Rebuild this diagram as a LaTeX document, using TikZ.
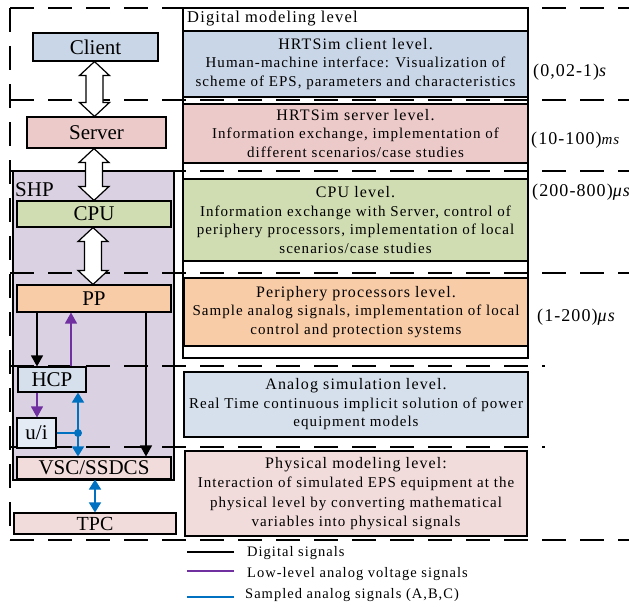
\documentclass[tikz,border=0pt]{standalone}
\usepackage{fontspec}
\setmainfont{Liberation Serif}
\newfontfamily\rfont[LetterSpace=7]{Liberation Serif}
\newfontfamily\tfont[LetterSpace=7]{Liberation Serif}
\newfontfamily\qfont[LetterSpace=6]{Liberation Serif}
\usetikzlibrary{arrows.meta,calc,fit}
\definecolor{cblue}{RGB}{201,214,231}
\definecolor{ablue}{RGB}{214,224,236}
\definecolor{uiblue}{RGB}{228,235,245}
\definecolor{spink}{RGB}{237,202,202}
\definecolor{ppink}{RGB}{242,220,219}
\definecolor{cgreen}{RGB}{208,221,178}
\definecolor{corange}{RGB}{249,204,168}
\definecolor{lav}{RGB}{218,210,226}
\definecolor{sigpurple}{RGB}{112,48,160}
\definecolor{sigblue}{RGB}{0,112,192}
\newcommand\hollowarr[3]{%
  \draw[hollow] let \p1=(#1 -| #3,0), \p2=(#2 -| #3,0) in
    (\x1,\y1) -- (\x1+15pt,\y1-14pt) -- (\x1+8.5pt,\y1-14pt) -- (\x1+8.5pt,\y2+14pt)
    -- (\x1+15pt,\y2+14pt) -- (\x1,\y2) -- (\x1-15pt,\y2+14pt) -- (\x1-8.5pt,\y2+14pt)
    -- (\x1-8.5pt,\y1-14pt) -- (\x1-15pt,\y1-14pt) -- cycle;}
\begin{document}
\begin{tikzpicture}[x=1pt,y=-1pt,
  box/.style={draw=black, line width=1.1pt, inner sep=0pt},
  lbox/.style={box, font=\fontsize{21}{24}\selectfont},
  rbody/.style={align=center, inner sep=0pt, font=\rfont\fontsize{15}{18.5}\selectfont},
  dline/.style={line width=1.2pt, dash pattern=on 24pt off 14pt},
  hollow/.style={draw=black, fill=white, line width=1.2pt, line join=miter},
  sigk/.style={draw=black, line width=1.2pt},
  sigp/.style={draw=sigpurple, line width=1.2pt},
  sigb/.style={draw=sigblue, line width=1.8pt},
  tip/.style={-{Triangle[width=12pt,length=11pt]}},
  dtip/.style={{Triangle[width=12pt,length=10pt]}-{Triangle[width=12pt,length=10pt]}},
  tlab/.style={anchor=west, inner sep=0pt, font=\qfont\fontsize{18}{20}\selectfont},
  leg/.style={anchor=west, inner sep=0pt, font=\tfont\fontsize{14.5}{17}\selectfont}]
\useasboundingbox (0,0) rectangle (629,610);
\fill[white] (0,0) rectangle (629,610);

% SHP container and right frame
\node[box, fill=lav, fit={(13,171)(174,480)}] (shp) {};
\node[box, fit={(183,8)(528,358)}] (frame) {};

% dashed level lines
\draw[dline] (10,8) -- (629,8);
\draw[dline] (10,100) -- (629,100);
\draw[dline] (10,171) -- (629,171);
\draw[dline] (10,273) -- (629,273);
\draw[dline] (10,366) -- (545,366);
\draw[dline] (10,447) -- (545,447);
\draw[dline] (10,540) -- (629,540);
\draw[dline] (10,8) -- (10,540);

% left column
\node[lbox, fill=cblue, minimum width=125pt, minimum height=28pt] (client) at (95.5,47) {Client};
\node[lbox, fill=spink, minimum width=139pt, minimum height=31pt] (server) at (96.5,132.5) {Server};
\node[lbox, fill=cgreen, minimum width=154pt, minimum height=26pt] (cpu) at (94,214) {CPU};
\node[lbox, fill=corange, minimum width=154pt, minimum height=27pt] (pp) at (94,298.5) {PP};
\node[lbox, fill=ablue, minimum width=68pt, minimum height=25pt] (hcp) at (52,379.5) {HCP};
\node[lbox, fill=uiblue, minimum width=39pt, minimum height=30pt] (ui) at (36.5,433) {u/i};
\node[lbox, fill=ppink, minimum width=154pt, minimum height=22pt] (vsc) at (94,468) {VSC/SSDCS};
\node[lbox, fill=ppink, font=\fontsize{20}{24}\selectfont, minimum width=162pt, minimum height=21pt] (tpc) at (95,523.5) {TPC};
\node[anchor=west, inner sep=0pt, font=\fontsize{21}{24}\selectfont] (shplbl) at (15,190) {SHP};

% right column
\node[anchor=west, inner sep=0pt, font=\tfont\fontsize{16.5}{19}\selectfont] (dml) at (187,19) {Digital modeling level};
\node[box, fill=cblue, fit={(183,31)(528,97)}] (clientL) {};
\node[box, fill=spink, fit={(183,104)(528,163)}] (serverL) {};
\node[box, fill=cgreen, fit={(183,179)(528,261)}] (cpuL) {};
\node[box, fill=corange, fit={(184,278)(528,346)}] (ppL) {};
\node[box, fill=ablue, fit={(184,372)(528,437)}] (anL) {};
\node[box, fill=ppink, fit={(185,451)(527,536)}] (phL) {};

\node[rbody] (clientT) at (clientL.center)
  {{\tfont\fontsize{16}{19}\selectfont HRTSim client level.}\\Human-machine interface: Visualization of\\scheme of EPS, parameters and characteristics};
\node[rbody] (serverT) at (serverL.center)
  {{\tfont\fontsize{16}{19}\selectfont HRTSim server level.}\\Information exchange, implementation of\\different scenarios/case studies};
\node[rbody] (cpuT) at (cpuL.center)
  {{\tfont\fontsize{16}{19}\selectfont CPU level.}\\Information exchange with Server, control of\\periphery processors, implementation of local\\scenarios/case studies};
\node[rbody] (ppT) at (ppL.center)
  {{\tfont\fontsize{16}{19}\selectfont Periphery processors level.}\\Sample analog signals, implementation of local\\control and protection systems};
\node[rbody] (anT) at (anL.center)
  {{\tfont\fontsize{16}{19}\selectfont Analog simulation level.}\\Real Time continuous implicit solution of power\\equipment models};
\node[rbody, font=\rfont\fontsize{15}{19.5}\selectfont] (phT) at (phL.center)
  {{\tfont\fontsize{16}{19}\selectfont Physical modeling level:}\\Interaction of simulated EPS equipment at the\\physical level by converting mathematical\\variables into physical signals};

% time scales
\node[tlab] (t1) at (533,72) {(0,02-1)\textit{s}};
\node[tlab] (t2) at (531,140) {(10-100)\textit{\fontsize{15}{18}\selectfont ms}};
\node[tlab] (t3) at (532,192) {(200-800)\textit{μs}};
\node[tlab] (t4) at (537,317) {(1-200)\textit{μs}};

% hollow bus arrows
\hollowarr{client.south}{server.north}{94.5}
\hollowarr{server.south}{cpu.north}{94}
\hollowarr{cpu.south}{pp.north}{93}

% signals
\draw[sigk, tip] (pp.south -| 37,0) -- (hcp.north -| 37,0);
\draw[sigp, tip] (hcp.north -| 71,0) -- (pp.south -| 71,0);
\draw[sigk, tip] (pp.south -| 146,0) -- (vsc.north -| 146,0);
\draw[sigp, tip] (hcp.south -| 37,0) -- (ui.north -| 37,0);
\coordinate (dot) at (ui.east -| 78,0);
\draw[sigb, dtip] (hcp.south -| 78,0) -- (vsc.north -| 78,0);
\draw[sigb] (ui.east) -- (dot);
\fill[sigblue] (dot) circle (4pt);
\draw[sigb, dtip] (vsc.south -| 95,0) -- (tpc.north -| 95,0);

% legend
\node[leg] (lg1) at (247,553) {Digital signals};
\node[leg] (lg2) at (247,574) {Low-level analog voltage signals};
\node[leg] (lg3) at (245,595) {Sampled analog signals (A,B,C)};
\draw[black, line width=1.2pt] (lg1.west) ++(-13,-1) -- ++(-47,0);
\draw[sigpurple, line width=1.2pt] (lg2.west) ++(-13,-3) -- ++(-47,0);
\draw[sigblue, line width=1.2pt] (lg3.west) ++(-11,2) -- ++(-47,0);
\end{tikzpicture}
\end{document}
